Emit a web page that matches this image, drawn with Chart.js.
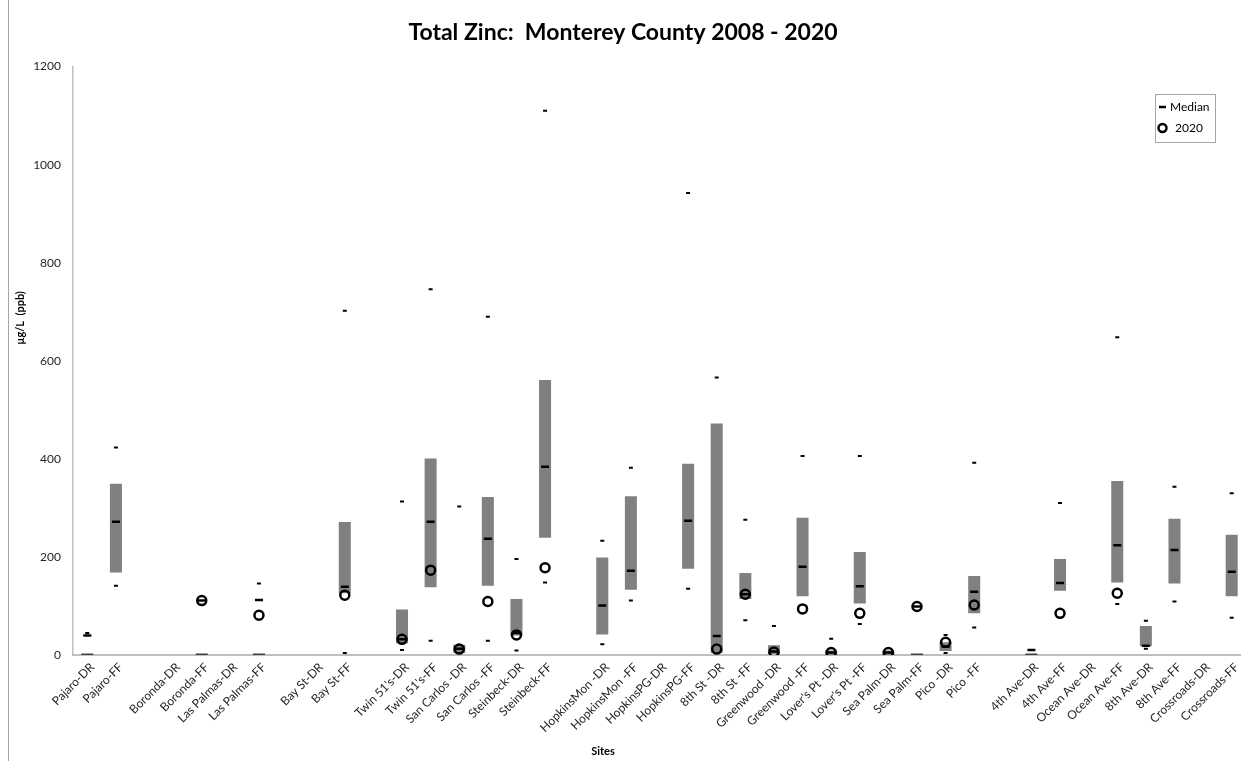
<!DOCTYPE html>
<html lang="en">
<head>
<meta charset="utf-8">
<title>Total Zinc: Monterey County 2008 - 2020</title>
<script src="https://cdn.jsdelivr.net/npm/chart.js@4.4.1/dist/chart.umd.min.js"></script>
<style>
    html, body { margin: 0; padding: 0; background: #fff; overflow: hidden; }
    #marco { position: relative; width: 1241px; height: 761px; overflow: hidden; }
    #contenedor { position: absolute; left: 0; top: 0; width: 1262px; height: 761px; }
    #borde { position: absolute; left: 8px; top: 0; bottom: 0; border-left: 1px solid #a6a6a6; }
</style>
</head>
<body>
<div id="marco">
    <div id="contenedor"><canvas id="grafico" width="1262" height="761"></canvas></div>
    <div id="borde"></div>
</div>
<script>
// Sitios ('' = hueco entre grupos)
const sitios = [
    'Pajaro-DR', 'Pajaro-FF', '',
    'Boronda-DR', 'Boronda-FF', 'Las Palmas-DR', 'Las Palmas-FF', '',
    'Bay St-DR', 'Bay St-FF', '',
    "Twin 51's-DR", "Twin 51's-FF", 'San Carlos -DR', 'San Carlos -FF', 'Steinbeck-DR', 'Steinbeck-FF', '',
    'HopkinsMon -DR', 'HopkinsMon -FF', 'HopkinsPG-DR', 'HopkinsPG-FF', '8th St -DR', '8th St -FF',
    'Greenwood -DR', 'Greenwood -FF', "Lover's Pt -DR", "Lover's Pt -FF", 'Sea Palm-DR', 'Sea Palm-FF',
    'Pico -DR', 'Pico -FF', '',
    '4th Ave-DR', '4th Ave-FF', 'Ocean Ave-DR', 'Ocean Ave-FF', '8th Ave-DR', '8th Ave-FF',
    'Crossroads-DR', 'Crossroads-FF'
];

// Caja (percentil bajo / alto), µg/L
const cajaBaja = [
    0, 168, null,
    null, 0, null, 0, null,
    null, 126, null,
    24, 138, 4, 141, 40, 239, null,
    42, 133, null, 176, 4, 114,
    2, 120, 0, 105, 0, 0,
    8, 85, null,
    0, 131, null, 148, 18, 146,
    null, 120
];
const cajaAlta = [
    3, 349, null,
    null, 3, null, 3, null,
    null, 271, null,
    93, 401, 21, 322, 114, 561, null,
    199, 324, null, 390, 472, 167,
    20, 280, 9, 210, 9, 3,
    26, 161, null,
    3, 196, null, 355, 59, 278,
    null, 245
];
const medianas = [
    40, 272, null,
    null, 111, null, 112, null,
    null, 139, null,
    32, 272, 13, 237, 45, 384, null,
    101, 172, null, 274, 39, 124,
    7, 180, 5, 140, 5, 99,
    17, 129, null,
    10, 147, null, 224, 19, 214,
    null, 170
];
const maximos = [
    45, 423, null,
    null, null, null, 146, null,
    null, 702, null,
    313, 746, 303, 690, 196, 1110, null,
    233, 382, null, 942, 566, 276,
    59, 406, 33, 406, null, null,
    41, 392, null,
    null, 310, null, 648, 70, 343,
    null, 330
];
const minimos = [
    null, 141, null,
    null, null, null, null, null,
    null, 4, null,
    10, 29, null, 29, 9, 148, null,
    22, 111, null, 135, null, 71,
    null, null, null, 63, null, null,
    4, 56, null,
    null, null, null, 104, 13, 109,
    null, 76
];
const valores2020 = [
    null, null, null,
    null, 111, null, 81, null,
    null, 122, null,
    32, 173, 12, 109, 41, 178, null,
    null, null, null, null, 12, 124,
    6, 94, 5, 85, 5, 99,
    26, 102, null,
    null, 85, null, 126, null, null,
    null, null
];
const ticksY = [0, 200, 400, 600, 800, 1000, 1200];

const fuente = "Lato, 'Open Sans', sans-serif";

const cajas = cajaBaja.map((b, i) => (b === null ? null : [b, cajaAlta[i]]));

const textosExtra = {
    id: 'textosExtra',
    afterDraw(chart) {
        const ctx = chart.ctx;

        // título eje Y
        ctx.save();
        ctx.translate(20, 318);
        ctx.rotate(-Math.PI / 2);
        ctx.font = 'bold 11px ' + fuente;
        ctx.fillStyle = '#000';
        ctx.textAlign = 'center';
        ctx.textBaseline = 'middle';
        ctx.fillText('µg/L  (ppb)', 0, 0);
        ctx.restore();

        // título eje X
        ctx.save();
        ctx.font = 'bold 11px ' + fuente;
        ctx.fillStyle = '#000';
        ctx.textAlign = 'center';
        ctx.textBaseline = 'middle';
        ctx.fillText('Sites', 603, 751);
        ctx.restore();

        // leyenda
        ctx.save();
        ctx.strokeStyle = '#a6a6a6';
        ctx.lineWidth = 1;
        ctx.strokeRect(1155.5, 94.5, 60, 48);
        ctx.strokeStyle = '#000';
        ctx.lineWidth = 2.5;
        ctx.beginPath();
        ctx.moveTo(1159, 107);
        ctx.lineTo(1166, 107);
        ctx.stroke();
        ctx.beginPath();
        ctx.arc(1162.5, 128, 4, 0, Math.PI * 2);
        ctx.stroke();
        ctx.font = '12px ' + fuente;
        ctx.fillStyle = '#000';
        ctx.textBaseline = 'middle';
        ctx.fillText('Median', 1170, 107);
        ctx.fillText('2020', 1175, 128);
        ctx.restore();
    }
};

new Chart(document.getElementById('grafico'), {
    type: 'bar',
    data: {
        labels: sitios,
        datasets: [
            {
                type: 'line',
                label: '2020',
                data: valores2020,
                showLine: false,
                pointStyle: 'circle',
                pointRadius: 4.5,
                pointBorderWidth: 2.5,
                pointBorderColor: '#000',
                pointBackgroundColor: 'rgba(0,0,0,0)',
                order: 1
            },
            {
                type: 'line',
                label: 'Median',
                data: medianas,
                showLine: false,
                pointStyle: 'line',
                pointRadius: 4,
                pointBorderWidth: 2.5,
                pointBorderColor: '#000',
                order: 2
            },
            {
                type: 'line',
                label: 'Max',
                data: maximos,
                showLine: false,
                pointStyle: 'line',
                pointRadius: 2,
                pointBorderWidth: 2,
                pointBorderColor: '#000',
                order: 3
            },
            {
                type: 'line',
                label: 'Min',
                data: minimos,
                showLine: false,
                pointStyle: 'line',
                pointRadius: 2,
                pointBorderWidth: 2,
                pointBorderColor: '#000',
                order: 3
            },
            {
                label: 'Rango',
                data: cajas,
                backgroundColor: ctx => {
                    const v = ctx.raw;
                    return v && (v[1] - v[0]) < 5 ? '#404040' : '#808080';
                },
                borderWidth: 0,
                barPercentage: 0.42,
                categoryPercentage: 1,
                order: 4
            }
        ]
    },
    options: {
        responsive: false,
        animation: false,
        layout: { padding: { left: 0, right: 16, top: 0, bottom: 0 } },
        plugins: {
            legend: { display: false },
            tooltip: { enabled: false },
            title: {
                display: true,
                text: 'Total Zinc:  Monterey County 2008 - 2020',
                color: '#000',
                font: { family: fuente, size: 23, weight: 'bold' },
                padding: { top: 19, bottom: 20 }
            }
        },
        scales: {
            x: {
                type: 'category',
                grid: { display: false, drawTicks: false },
                border: { color: '#bfbfbf', width: 2 },
                ticks: {
                    autoSkip: false,
                    minRotation: 45,
                    maxRotation: 45,
                    padding: 5,
                    labelOffset: 5,
                    color: '#262626',
                    font: { family: fuente, size: 12 }
                },
                afterFit: s => { s.height = 106; }
            },
            y: {
                min: 0,
                max: 1200,
                grid: { display: false, drawTicks: false },
                border: { color: '#bfbfbf', width: 1.5 },
                ticks: {
                    padding: 12,
                    color: '#262626',
                    font: { family: fuente, size: 12 },
                    callback: v => String(v)
                },
                afterBuildTicks: s => { s.ticks = ticksY.map(v => ({ value: v })); },
                afterFit: s => { s.width = 73; }
            }
        }
    },
    plugins: [textosExtra]
});
</script>
</body>
</html>
